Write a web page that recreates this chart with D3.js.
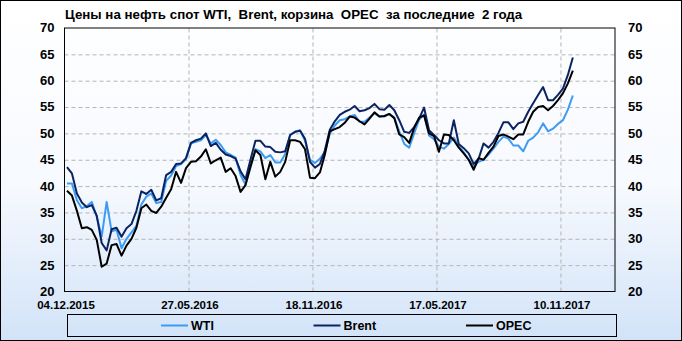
<!DOCTYPE html>
<html lang="ru">
  <head>
    <meta charset="UTF-8" />
    <title>Цены на нефть</title>
    <script src="https://cdn.jsdelivr.net/npm/d3@7"></script>
    <style>
      body { margin: 0; }
      svg { display: block; }
      text { font-family: "Liberation Sans", Arial, sans-serif; font-weight: bold; fill: #000; }
    </style>
  </head>
  <body>
    <svg width="682" height="341"></svg>
    <script>
      // weekly prices, $/bbl, starting 04.12.2015
      const wti = [40.5, 40.5, 37.3, 35.8, 36.2, 37.0, 34.2, 30.4, 37.0, 31.4,
        31.7, 28.2, 30.0, 31.2, 32.5, 36.5, 38.0, 38.6, 36.8, 37.0,
        41.0, 42.0, 43.8, 44.2, 45.1, 48.1, 48.4, 48.7, 49.7, 48.1,
        48.8, 47.8, 46.4, 45.9, 45.4, 42.1, 40.3, 43.5, 47.0, 46.6,
        45.3, 45.9, 44.5, 44.5, 46.1, 49.7, 50.3, 50.6, 48.6, 45.0,
        44.4, 45.2, 46.4, 50.0, 51.5, 52.5, 52.7, 53.2, 53.5, 52.2,
        52.2, 53.0, 53.8, 53.2, 53.2, 53.7, 53.0, 50.4, 48.0, 47.3,
        50.0, 52.6, 53.6, 49.6, 48.9, 47.5, 47.1, 48.0, 49.2, 47.6,
        46.4, 45.0, 43.7, 44.6, 45.0, 46.0, 47.1, 48.4, 49.4, 49.0,
        47.7, 47.7, 46.6, 48.6, 49.2, 50.2, 51.9, 50.4, 50.9, 51.8,
        52.5, 54.5, 57.2];
      const brent = [43.6, 42.4, 38.6, 36.9, 36.0, 36.4, 34.4, 29.2, 27.8, 31.8,
        32.1, 30.4, 32.0, 32.8, 35.3, 39.0, 38.5, 39.3, 37.3, 37.7,
        42.1, 42.7, 44.2, 44.3, 45.3, 48.2, 48.7, 49.0, 50.0, 47.6,
        48.2, 46.9, 46.0, 45.7, 45.2, 42.8, 41.3, 45.0, 48.6, 48.6,
        47.5, 47.4, 46.5, 46.4, 46.6, 49.7, 50.3, 50.5, 49.0, 44.6,
        43.5, 44.2, 46.8, 50.7, 52.3, 53.5, 54.1, 54.5, 55.2, 54.2,
        54.4, 54.8, 55.6, 54.6, 54.5, 55.4, 54.4, 52.5, 50.3, 50.1,
        51.2, 52.8, 54.9, 50.6, 49.7, 48.7, 48.1, 48.1, 52.5, 48.0,
        47.2, 46.2, 44.2, 45.2, 48.1, 47.3, 48.4, 50.1, 52.1, 52.1,
        50.8, 51.9, 52.2, 54.1, 55.7, 57.3, 58.8, 56.3, 56.3, 57.3,
        58.5, 61.1, 64.4];
      const opec = [39.1, 38.2, 35.3, 32.0, 32.2, 31.7, 29.8, 24.7, 25.3, 28.8,
        29.0, 26.8, 28.7, 30.0, 32.1, 35.8, 36.5, 35.3, 34.9, 36.1,
        37.8, 39.4, 42.7, 40.6, 43.4, 44.6, 44.7, 45.6, 47.0, 44.3,
        44.9, 45.4, 42.7, 43.4, 41.9, 38.9, 40.2, 43.7, 46.8, 45.9,
        41.3, 44.6, 41.8, 42.7, 44.6, 48.7, 48.7, 48.4, 47.0, 41.6,
        41.5, 42.6, 46.0, 50.4, 50.8, 51.2, 52.0, 53.2, 53.0, 52.3,
        51.7, 52.8, 54.0, 53.2, 53.3, 53.7, 52.9, 49.8, 49.3, 48.2,
        51.0, 53.0, 53.4, 50.0, 49.5, 46.5, 49.8, 49.7, 48.7, 47.3,
        46.2, 45.0, 43.1, 45.3, 45.0, 46.3, 47.5, 49.5, 49.8, 49.4,
        48.9, 49.8, 49.8, 52.2, 54.1, 55.0, 55.2, 54.4, 55.2, 56.3,
        57.6, 59.5, 61.9];

      const tickLabels = ["04.12.2015", "27.05.2016", "18.11.2016", "17.05.2017", "10.11.2017"];
      const tickIdx = [0, 25, 50, 75, 100]; // category where each label sits
      const nCats = 111; // axis runs past the last week
      const yTicks = [20, 25, 30, 35, 40, 45, 50, 55, 60, 65, 70];

      const series = [
        { name: "WTI", values: wti, color: "#3c9cf5" },
        { name: "Brent", values: brent, color: "#0b2461" },
        { name: "OPEC", values: opec, color: "#000000" }
      ];

      const W = 682, H = 341;
      const m = { left: 64.5, right: 615, top: 28, bottom: 291.5 };

      const svg = d3.select("svg");

      // background gradient
      const grad = svg.append("defs").append("linearGradient")
        .attr("id", "bg").attr("x1", 0).attr("y1", 0).attr("x2", 0).attr("y2", 1);
      grad.append("stop").attr("offset", "0%").attr("stop-color", "#ffffff");
      grad.append("stop").attr("offset", "55%").attr("stop-color", "#f6f9fe");
      grad.append("stop").attr("offset", "100%").attr("stop-color", "#d2e3f8");
      svg.append("rect").attr("x", 0.5).attr("y", 0.5).attr("width", W - 1).attr("height", H - 1)
        .attr("fill", "url(#bg)").attr("stroke", "#000");

      const x = d3.scaleLinear().domain([0, nCats]).range([m.left, m.right]);
      const y = d3.scaleLinear().domain([20, 70]).range([m.bottom, m.top]);

      // horizontal grid
      svg.append("g")
        .attr("transform", `translate(${m.left},0)`)
        .call(d3.axisLeft(y).tickValues(yTicks.slice(1, -1)).tickSize(-(m.right - m.left)).tickFormat(""))
        .call(g => g.select(".domain").remove())
        .selectAll("line").attr("stroke", "#b4b4b4").attr("stroke-dasharray", "4,3");

      // vertical grid at label positions
      svg.append("g")
        .attr("transform", `translate(0,${m.bottom})`)
        .call(d3.axisBottom(x).tickValues(tickIdx.slice(1)).tickSize(-(m.bottom - m.top)).tickFormat(""))
        .call(g => g.select(".domain").remove())
        .selectAll("line").attr("stroke", "#b4b4b4").attr("stroke-dasharray", "4,3");

      // plot frame
      svg.append("rect")
        .attr("x", m.left).attr("y", m.top)
        .attr("width", m.right - m.left).attr("height", m.bottom - m.top)
        .attr("fill", "none").attr("stroke", "#000");

      // y labels both sides
      svg.append("g")
        .attr("transform", `translate(${m.left},0)`)
        .call(d3.axisLeft(y).tickValues(yTicks).tickSize(0).tickPadding(10))
        .call(g => g.select(".domain").remove())
        .selectAll("text").style("font-size", "13px").attr("dy", "0.3em");
      svg.append("g")
        .attr("transform", `translate(${m.right},0)`)
        .call(d3.axisRight(y).tickValues(yTicks).tickSize(0).tickPadding(13))
        .call(g => g.select(".domain").remove())
        .selectAll("text").style("font-size", "13px").attr("dy", "0.3em");

      // x labels
      svg.append("g")
        .attr("transform", `translate(1,${m.bottom + 2})`)
        .call(d3.axisBottom(x).tickValues(tickIdx).tickSize(0).tickPadding(7)
          .tickFormat((d, i) => tickLabels[i]))
        .call(g => g.select(".domain").remove())
        .selectAll("text").style("font-size", "11.5px");

      // lines
      const line = d3.line().x((d, i) => x(i + 0.5)).y(d => y(d));
      svg.append("g").selectAll("path")
        .data(series)
        .enter()
        .append("path")
        .attr("d", d => line(d.values))
        .attr("fill", "none")
        .attr("stroke", d => d.color)
        .attr("stroke-width", 2)
        .attr("stroke-linejoin", "round");

      // title (double spaces kept as in the original)
      svg.append("text")
        .attr("x", 65).attr("y", 19)
        .style("font-size", "13.3px")
        .style("white-space", "pre")
        .text("Цены на нефть спот WTI,  Brent, корзина  OPEC  за последние  2 года");

      // legend
      svg.append("rect")
        .attr("x", 67.5).attr("y", 314.5).attr("width", 549).attr("height", 22)
        .attr("fill", "none").attr("stroke", "#000");
      const leg = svg.append("g").selectAll("g")
        .data(series)
        .enter()
        .append("g")
        .attr("transform", (d, i) => `translate(${161 + i * 152.5},325.5)`);
      leg.append("line").attr("x1", 0).attr("x2", 27)
        .attr("stroke", d => d.color).attr("stroke-width", 2);
      leg.append("text").attr("x", 30).attr("dy", "0.36em")
        .style("font-size", "12.5px")
        .text(d => d.name);
    </script>
  </body>
</html>
